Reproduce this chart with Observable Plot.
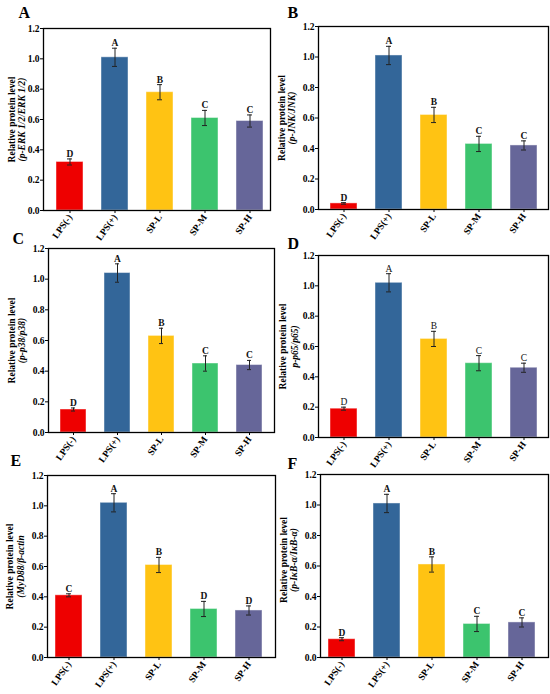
<!DOCTYPE html>
<html>
<head>
<meta charset="utf-8">
<script src="https://cdn.jsdelivr.net/npm/d3@7"></script>
<script src="https://cdn.jsdelivr.net/npm/@observablehq/plot@0.6"></script>
<style>
  body { margin: 0; background: #fff; }
  #wrap { position: relative; width: 550px; height: 694px; overflow: hidden; background: #fff; }
  #wrap svg { position: absolute; }
</style>
</head>
<body>
<div id="wrap"></div>
<script>
// ---- data ----
const groups = ["LPS(-)", "LPS(+)", "SP-L", "SP-M", "SP-H"];
const groupColors = ["#ee0000", "#336699", "#ffc313", "#3cc46e", "#666699"];
const yTicks = [0, 0.2, 0.4, 0.6, 0.8, 1.0, 1.2];

const valuesA = [0.32, 1.01, 0.78, 0.61, 0.59];
const errorsA = [0.02, 0.06, 0.05, 0.05, 0.04];
const lettersA = ["D", "A", "B", "C", "C"];

const valuesB = [0.04, 1.01, 0.62, 0.43, 0.42];
const errorsB = [0.005, 0.06, 0.05, 0.05, 0.03];
const lettersB = ["D", "A", "B", "C", "C"];

const valuesC = [0.15, 1.04, 0.63, 0.45, 0.44];
const errorsC = [0.01, 0.06, 0.05, 0.05, 0.03];
const lettersC = ["D", "A", "B", "C", "C"];

const valuesD = [0.19, 1.02, 0.65, 0.49, 0.46];
const errorsD = [0.01, 0.06, 0.05, 0.05, 0.03];
const lettersD = ["D", "A", "B", "C", "C"];

const valuesE = [0.41, 1.02, 0.61, 0.32, 0.31];
const errorsE = [0.01, 0.06, 0.05, 0.05, 0.03];
const lettersE = ["C", "A", "B", "D", "D"];

const valuesF = [0.12, 1.01, 0.61, 0.22, 0.23];
const errorsF = [0.01, 0.06, 0.05, 0.05, 0.03];
const lettersF = ["D", "A", "B", "C", "C"];

const panelNames = ["A", "B", "C", "D", "E", "F"];
const yLabel1 = "Relative protein level";
const yLabel2 = ["(p-ERK 1/2/ERK 1/2)", "(p-JNK/JNK)", "(p-p38/p38)", "p-p65/p65)", "(MyD88/β-actin", "(p-IκB-α/IκB-α)"];

// ---- layout (pixel geometry of each panel) ----
const layout = [
  {colX: 0,   L: 43,  R: 270, T: 28,  B: 210, ldx: -25, ldy: -11, l1: -32, l2: -22, labDy: 0,  align: 0.65, bold: true},
  {colX: 275, L: 318, R: 548, T: 26,  B: 209, ldx: -31, ldy: -9,  l1: -37, l2: -27, labDy: 0,  align: 0.5,  bold: true},
  {colX: 0,   L: 48,  R: 274, T: 248, B: 432, ldx: -36, ldy: -5,  l1: -37, l2: -27, labDy: 0,  align: 0.5,  bold: true},
  {colX: 275, L: 318, R: 548, T: 255, B: 437, ldx: -31, ldy: -7,  l1: -36, l2: -24, labDy: 0,  align: 0.5,  bold: false},
  {colX: 0,   L: 47,  R: 275, T: 475, B: 657, ldx: -37, ldy: -10, l1: -38, l2: -27, labDy: 0,  align: 0.4,  bold: true},
  {colX: 275, L: 320, R: 548, T: 474, B: 657, ldx: -33, ldy: -6,  l1: -37, l2: -27, labDy: -6, align: 0.4,  bold: true}
];

const allValues = [valuesA, valuesB, valuesC, valuesD, valuesE, valuesF];
const allErrors = [errorsA, errorsB, errorsC, errorsD, errorsE, errorsF];
const allLetters = [lettersA, lettersB, lettersC, lettersD, lettersE, lettersF];

const wrap = document.getElementById("wrap");
const FONT = "'Liberation Serif', 'Times New Roman', serif";

layout.forEach((p, i) => {
  const data = groups.map((g, j) => ({g, v: allValues[i][j], e: allErrors[i][j], l: allLetters[i][j]}));
  const mTop = 28, mBottom = 34, mRight = 3;
  const mLeft = p.L - p.colX;
  const width = p.R - p.colX + mRight;
  const height = mTop + (p.B - p.T) + mBottom;

  const chart = Plot.plot({
    width, height,
    marginLeft: mLeft, marginRight: mRight, marginTop: mTop, marginBottom: mBottom,
    style: {fontFamily: FONT, fontSize: "9.5px", fontWeight: "bold", background: "none", overflow: "visible", color: "#000"},
    x: {domain: groups, paddingInner: 0.4, paddingOuter: 0.22, align: p.align, label: null},
    y: {domain: [0, 1.2], label: null},
    color: {domain: groups, range: groupColors},
    marks: [
      Plot.barY(data, {x: "g", y: "v", fill: "g", stroke: "#ffffff", strokeOpacity: 0.45, strokeWidth: 1}),
      Plot.ruleX(data, {x: "g", y1: d => d.v - d.e, y2: d => d.v + d.e, stroke: "#222", strokeWidth: 1}),
      Plot.tickY(data, {x: "g", y: d => d.v + d.e, stroke: "#222", strokeWidth: 1, insetLeft: 11, insetRight: 11}),
      Plot.tickY(data, {x: "g", y: d => d.v - d.e, stroke: "#222", strokeWidth: 1, insetLeft: 11, insetRight: 11}),
      Plot.text(data, {x: "g", y: d => d.v + d.e, text: "l", lineAnchor: "bottom", dy: -2,
        fontSize: 9.5, fontWeight: p.bold ? "bold" : "normal", fill: "#111"}),
      Plot.frame({stroke: "#000", strokeWidth: 1.3}),
      Plot.axisY({ticks: yTicks, tickFormat: d3.format(".1f"), tickSize: 3, tickPadding: 1, fontWeight: "bold"}),
      Plot.axisX({tickSize: 3, tickRotate: -55, tickPadding: 2, fontWeight: "bold", label: null}),
      Plot.text([yLabel1], {text: d => d, frameAnchor: "left", textAnchor: "middle", lineAnchor: "middle",
        rotate: -90, dx: p.l1, dy: p.labDy, fontSize: 9.5, fontWeight: "bold", fill: "#000"}),
      Plot.text([yLabel2[i]], {text: d => d, frameAnchor: "left", textAnchor: "middle", lineAnchor: "middle",
        rotate: -90, dx: p.l2, dy: p.labDy, fontSize: 9.5, fontWeight: "bold", fontStyle: "italic", fill: "#000"}),
      Plot.text([panelNames[i]], {text: d => d, frameAnchor: "top-left", textAnchor: "start", lineAnchor: "bottom",
        dx: p.ldx, dy: p.ldy, fontSize: 16, fontWeight: "bold", fill: "#000"})
    ]
  });
  chart.style.left = p.colX + "px";
  chart.style.top = (p.T - mTop) + "px";
  wrap.appendChild(chart);
});
</script>
</body>
</html>
